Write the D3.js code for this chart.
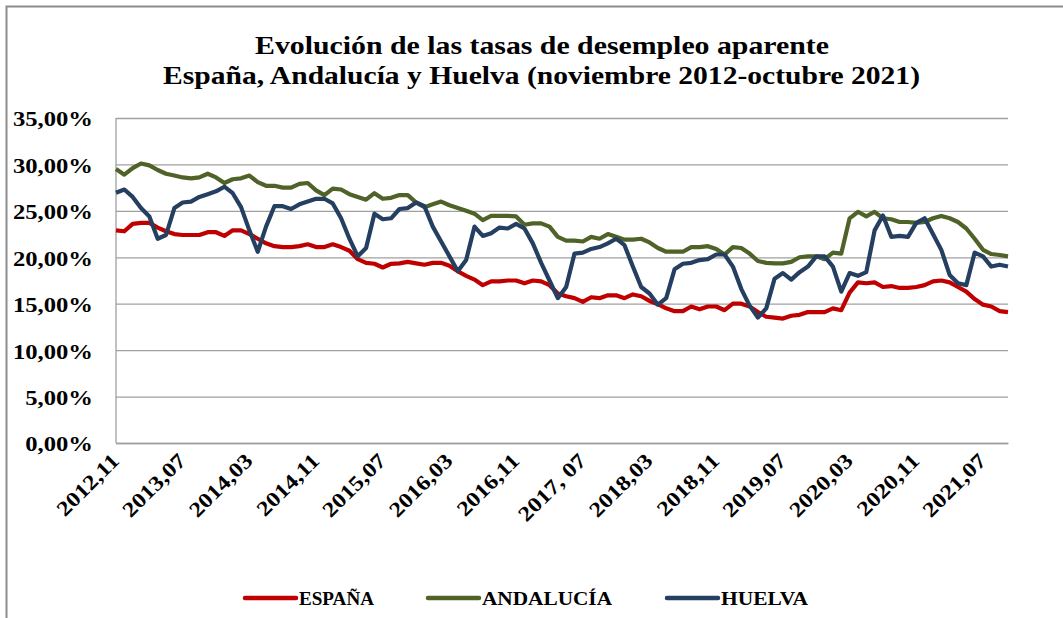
<!DOCTYPE html>
<html><head><meta charset="utf-8">
<script src="https://cdn.jsdelivr.net/npm/d3@7"></script>
<style>
html,body{margin:0;padding:0;background:#fff;}
svg{display:block;}
text{font-family:"Liberation Serif","DejaVu Serif",serif;font-weight:bold;fill:#000;}
</style></head><body>
<svg id="chart" width="1063" height="618"></svg>
<script>
// Months from 2012-11 to 2021-10
const startYear = 2012, startMonth = 11, nMonths = 108;
const months = d3.range(nMonths).map(i => {
  const m = (startMonth - 1 + i) % 12 + 1;
  const y = startYear + Math.floor((startMonth - 1 + i) / 12);
  return y + "," + String(m).padStart(2, "0");
});
const tickMonths = ["2012,11","2013,07","2014,03","2014,11","2015,07","2016,03","2016,11","2017,07","2018,03","2018,11","2019,07","2020,03","2020,11","2021,07"];
const tickLabels = ["2012,11","2013,07","2014,03","2014,11","2015,07","2016,03","2016,11","2017, 07","2018,03","2018,11","2019,07","2020,03","2020,11","2021,07"];
const yTicks = [0,5,10,15,20,25,30,35];

const espana = [22.9,22.8,23.6,23.7,23.7,23.2,22.8,22.5,22.4,22.4,22.4,22.7,22.7,22.3,22.9,22.9,22.5,22.0,21.5,21.2,
21.1,21.1,21.2,21.4,21.1,21.1,21.4,21.1,20.7,19.8,19.4,19.3,18.9,19.3,19.35,19.5,19.35,19.2,19.4,19.4,
19.1,18.5,18.0,17.6,17.0,17.4,17.4,17.5,17.5,17.2,17.5,17.4,17.0,16.1,15.8,15.6,15.2,15.7,15.6,15.9,
15.9,15.6,16.0,15.8,15.3,14.95,14.5,14.2,14.2,14.7,14.4,14.7,14.7,14.3,15.0,15.0,14.7,14.1,13.6,13.5,
13.4,13.7,13.8,14.1,14.1,14.1,14.5,14.3,16.2,17.3,17.2,17.3,16.8,16.9,16.7,16.7,16.8,17.0,17.4,17.5,
17.3,16.8,16.3,15.5,14.9,14.7,14.2,14.1];
const andalucia = [29.5,28.9,29.6,30.1,29.9,29.4,29.0,28.8,28.6,28.5,28.6,29.0,28.6,28.0,28.4,28.5,28.8,28.1,27.7,27.7,
27.5,27.5,27.9,28.0,27.2,26.7,27.4,27.3,26.8,26.5,26.2,26.9,26.3,26.4,26.7,26.7,25.9,25.4,25.7,26.0,
25.6,25.3,25.0,24.7,24.0,24.45,24.45,24.45,24.4,23.5,23.65,23.65,23.3,22.2,21.8,21.8,21.7,22.2,22.0,22.5,
22.2,21.9,21.9,22.0,21.6,21.0,20.6,20.6,20.6,21.1,21.1,21.2,20.9,20.3,21.1,21.0,20.4,19.6,19.4,19.35,
19.35,19.5,20.0,20.1,20.1,19.8,20.5,20.4,24.2,24.9,24.4,24.9,24.2,24.1,23.8,23.8,23.7,23.8,24.2,24.45,
24.2,23.8,23.1,22.0,20.8,20.35,20.25,20.1];
const huelva = [26.95,27.3,26.5,25.3,24.4,22.0,22.4,25.3,25.9,26.0,26.5,26.8,27.1,27.6,26.9,25.4,22.9,20.6,23.3,25.5,
25.5,25.2,25.7,26.0,26.3,26.3,25.8,24.2,22.0,20.1,21.0,24.7,24.1,24.2,25.2,25.3,25.9,25.5,23.3,21.7,
20.1,18.5,19.7,23.3,22.3,22.6,23.2,23.1,23.6,23.1,21.5,19.4,17.5,15.6,16.8,20.4,20.5,20.9,21.1,21.5,
22.0,21.3,19.0,16.8,16.1,14.9,15.6,18.7,19.3,19.4,19.7,19.8,20.3,20.3,19.0,16.6,14.8,13.5,14.5,17.7,
18.3,17.6,18.4,19.0,20.1,20.1,19.0,16.3,18.3,18.0,18.4,22.9,24.5,22.2,22.3,22.2,23.7,24.2,22.5,20.8,
18.1,17.2,17.0,20.5,20.1,19.0,19.2,19.0];

const seriesNames = ["ESPAÑA","ANDALUCÍA","HUELVA"];
const seriesColors = ["#C00000","#4F6228","#243F60"];
const seriesData = [espana, andalucia, huelva];

const svg = d3.select("#chart");
const L = 116, R = 1008, T = 118, B = 443;

// outer frame
svg.append("path").attr("d","M6.5,620 V6.5 H1070").attr("fill","none").attr("stroke","#8c8c8c").attr("stroke-width",2);

// title
svg.append("text").attr("x",542).attr("y",54).attr("text-anchor","middle").style("font-size","25px")
  .attr("textLength",574).attr("lengthAdjust","spacingAndGlyphs")
  .text("Evolución de las tasas de desempleo aparente");
svg.append("text").attr("x",541.5).attr("y",84).attr("text-anchor","middle").style("font-size","25px")
  .attr("textLength",757).attr("lengthAdjust","spacingAndGlyphs")
  .text("España, Andalucía y Huelva (noviembre 2012-octubre 2021)");

const x = d3.scalePoint().domain(months).range([L, R]);
const y = d3.scaleLinear().domain([0, 35]).range([B, T]);

// gridlines
const grid = svg.append("g").call(d3.axisLeft(y).tickValues(yTicks).tickSize(-(R - L)).tickFormat(""))
  .attr("transform",`translate(${L},0)`);
grid.select(".domain").remove();
grid.selectAll("line").attr("stroke","#a0a0a0").attr("stroke-width",1.3);

svg.append("line").attr("x1",L).attr("x2",L).attr("y1",T).attr("y2",B).attr("stroke","#a0a0a0").attr("stroke-width",1.3);

// stretch helper
function stretch(sel, k) {
  sel.each(function() {
    const w = this.getComputedTextLength();
    d3.select(this).attr("textLength", w * k).attr("lengthAdjust","spacingAndGlyphs");
  });
}

// y labels
const yAxis = svg.append("g").attr("transform",`translate(${L},0)`)
  .call(d3.axisLeft(y).tickValues(yTicks).tickSize(0).tickPadding(23)
  .tickFormat(d => d3.format(".2f")(d).replace(".", ",") + "%"));
yAxis.select(".domain").remove();
yAxis.selectAll("text").style("font-size","22px").style("font-family",'"Liberation Serif",serif').style("font-weight","bold").attr("dy","0.36em");
stretch(yAxis.selectAll("text"), 1.12);

// x labels
const xAxis = svg.append("g").attr("transform",`translate(0,${B})`)
  .call(d3.axisBottom(x).tickValues(tickMonths).tickSize(0).tickFormat((d,i) => tickLabels[i]));
xAxis.select(".domain").attr("stroke","#a0a0a0").attr("stroke-width",1.3);
xAxis.selectAll("text").style("font-size","21px").style("font-family",'"Liberation Serif",serif').style("font-weight","bold")
  .attr("text-anchor","end").attr("dy",null).attr("y",null)
  .attr("transform","translate(4,19) rotate(-45)");
stretch(xAxis.selectAll("text"), 1.17);

// lines
const line = d3.line().x((d,i) => x(months[i])).y(d => y(d));
seriesData.forEach((s, k) => {
  svg.append("path").datum(s).attr("d", line).attr("fill","none")
    .attr("stroke", seriesColors[k]).attr("stroke-width",4.2).attr("stroke-linejoin","round");
});

// legend
const legX = [245, 428, 667];
const legW = [75, 130, 87];
seriesNames.forEach((n, k) => {
  const g = svg.append("g").attr("transform",`translate(${legX[k]},598)`);
  g.append("line").attr("x1",0).attr("x2",51).attr("stroke",seriesColors[k]).attr("stroke-width",4.5).attr("stroke-linecap","round");
  g.append("text").attr("x",54).attr("y",6.5).style("font-size","18px")
    .attr("textLength",legW[k]).attr("lengthAdjust","spacingAndGlyphs").text(n);
});
</script>
</body></html>
